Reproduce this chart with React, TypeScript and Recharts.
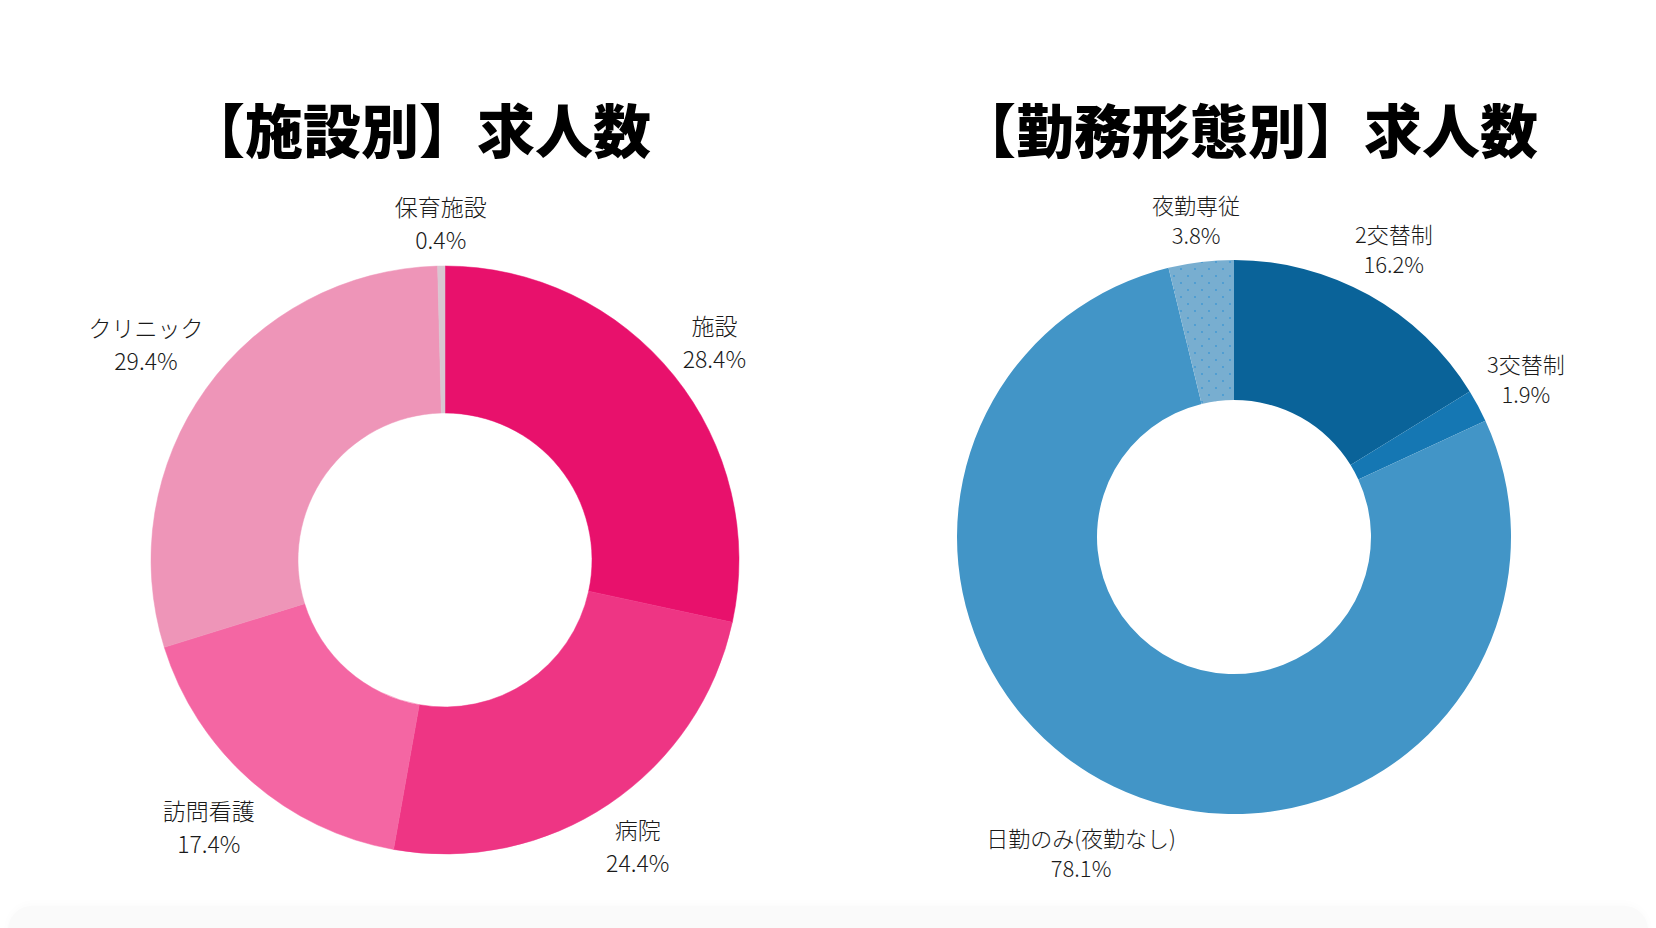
import React from "react";
import { PieChart, Pie, Cell } from "recharts";

// ---- Data ----
const facilityNames = ["施設", "病院", "訪問看護", "クリニック", "保育施設"];
const facilityShares = [28.4, 24.4, 17.4, 29.4, 0.4];
const facilityColors = ["#E8116C", "#EE3584", "#F466A3", "#EE95B8", "#D9C6D1"];

const shiftNames = ["2交替制", "3交替制", "日勤のみ(夜勤なし)", "夜勤専従"];
const shiftShares = [16.2, 1.9, 78.1, 3.8];
const shiftColors = ["#0A6399", "#1577B3", "#4295C7", "url(#dotsPattern)"];

const leftTitle = "【施設別】求人数";
const rightTitle = "【勤務形態別】求人数";

const facilityData = facilityNames.map((name, i) => ({ name, value: facilityShares[i] }));
const shiftData = shiftNames.map((name, i) => ({ name, value: shiftShares[i] }));

const FONT = '"Noto Sans CJK JP", "Noto Sans", sans-serif';
const RAD = Math.PI / 180;

function textWidth(s: string, fs: number) {
  let w = 0;
  for (const ch of s) {
    const c = ch.charCodeAt(0);
    if (c > 0x2e80) w += fs;
    else if (ch === ".") w += fs * 0.25;
    else if (ch === "%") w += fs * 0.8;
    else if (ch === "(" || ch === ")") w += fs * 0.4;
    else w += fs * 0.52;
  }
  return w;
}

function makeLabel(fs: number, lh: number, gap: number) {
  return (props: any) => {
    const { cx, cy, midAngle, outerRadius, name, value } = props;
    const pct = `${Number(value).toFixed(1)}%`;
    const dx = Math.cos(-midAngle * RAD);
    const dy = Math.sin(-midAngle * RAD);
    const hw = Math.max(textWidth(name, fs), textWidth(pct, fs)) / 2;
    const hh = lh;
    const r = outerRadius + gap + hw * Math.abs(dx) + hh * Math.abs(dy);
    const x = cx + r * dx;
    const y = cy + r * dy;
    return (
      <text
        x={x}
        y={y}
        textAnchor="middle"
        fontFamily={FONT}
        fontSize={fs}
        fontWeight={300}
        fill="#1a1a1a"
      >
        <tspan x={x} y={y - lh / 2 + fs * 0.36}>{name}</tspan>
        <tspan x={x} y={y + lh / 2 + fs * 0.36}>{pct}</tspan>
      </text>
    );
  };
}

const titleStyle: React.CSSProperties = {
  position: "absolute",
  top: 128 - 40,
  height: 80,
  lineHeight: "80px",
  fontFamily: FONT,
  fontWeight: 900,
  fontSize: 58,
  color: "#000",
  whiteSpace: "nowrap",
  transform: "translateX(-50%)",
};

const noMargin = { top: 0, right: 0, bottom: 0, left: 0 };

export default function App() {
  return (
    <div
      style={{
        position: "absolute",
        left: 0,
        top: 0,
        width: 1656,
        height: 928,
        background: "#fff",
        overflow: "hidden",
      }}
    >
      <svg width={0} height={0} style={{ position: "absolute" }}>
        <defs>
          <pattern id="dotsPattern" patternUnits="userSpaceOnUse" width={14} height={14}>
            <rect x={0} y={0} width={14} height={14} fill="#78AED0" />
            <circle cx={3} cy={3} r={0.9} fill="#3D97D3" />
            <circle cx={10} cy={10} r={0.9} fill="#3D97D3" />
          </pattern>
        </defs>
      </svg>
      <div
        style={{
          position: "absolute",
          left: 8,
          top: 906,
          width: 1640,
          height: 60,
          borderRadius: 24,
          background: "#FAFAFA",
          boxShadow: "0 -2px 10px rgba(0,0,0,0.02)",
        }}
      />
      <div style={{ ...titleStyle, left: 419 }}>{leftTitle}</div>
      <div style={{ ...titleStyle, left: 1248 }}>{rightTitle}</div>

      <div style={{ position: "absolute", left: 0, top: 0 }}>
        <PieChart width={828} height={928} margin={noMargin}>
          <Pie
            data={facilityData}
            dataKey="value"
            nameKey="name"
            cx={445}
            cy={560}
            innerRadius={147}
            outerRadius={294}
            startAngle={90}
            endAngle={-270}
            stroke="none"
            labelLine={false}
            label={makeLabel(23, 33, 8)}
            isAnimationActive={false}
          >
            {facilityData.map((d, i) => (
              <Cell key={d.name} fill={facilityColors[i]} stroke={facilityColors[i]} strokeWidth={0.5} />
            ))}
          </Pie>
        </PieChart>
      </div>
      <div style={{ position: "absolute", left: 828, top: 0 }}>
        <PieChart width={828} height={928} margin={noMargin}>
          <Pie
            data={shiftData}
            dataKey="value"
            nameKey="name"
            cx={406}
            cy={537}
            innerRadius={137}
            outerRadius={277}
            startAngle={90}
            endAngle={-270}
            stroke="none"
            labelLine={false}
            label={makeLabel(22, 30, 6)}
            isAnimationActive={false}
          >
            {shiftData.map((d, i) => (
              <Cell key={d.name} fill={shiftColors[i]} stroke="none" />
            ))}
          </Pie>
        </PieChart>
      </div>
    </div>
  );
}
